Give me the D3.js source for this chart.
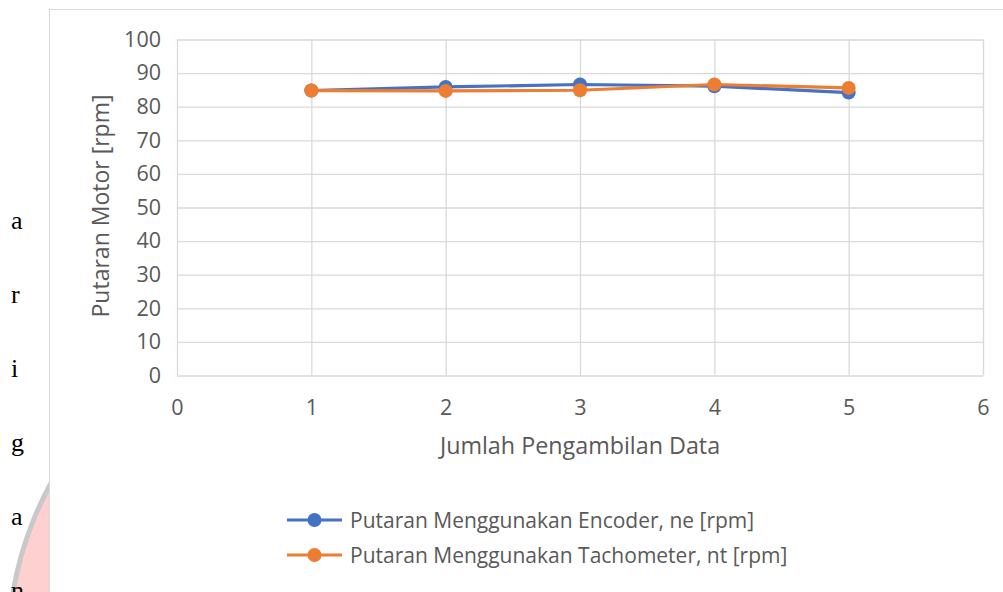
<!DOCTYPE html>
<html><head><meta charset="utf-8">
<script src="https://cdn.jsdelivr.net/npm/d3@7"></script>
<style>body{margin:0;background:#fff;overflow:hidden}</style>
</head><body>
<svg id="c" width="1003" height="592"></svg>
<script>
const xValues = [1, 2, 3, 4, 5];
const encoderValues = [84.8, 85.9, 86.6, 86.1, 84.2];
const tachoValues = [84.8, 84.7, 84.9, 86.6, 85.6];
const xTicks = [0, 1, 2, 3, 4, 5, 6];
const yTicks = [0, 10, 20, 30, 40, 50, 60, 70, 80, 90, 100];
const seriesNames = ["Putaran Menggunakan Encoder, ne [rpm]", "Putaran Menggunakan Tachometer, nt [rpm]"];
const seriesColors = ["#4472C4", "#ED7D31"];
const sideLetters = ["a", "r", "i", "g", "a", "n"];

const svg = d3.select("#c");
const font = "'Open Sans', sans-serif";
const txt = "#595959";

// background watermark circle (partially hidden by the chart frame)
svg.append("circle").attr("cx", 362).attr("cy", 652).attr("r", 354)
  .attr("fill", "#ffd0d0").attr("stroke", "#c9c9c9").attr("stroke-width", 5);

// side letters
svg.selectAll("text.side").data(sideLetters).join("text")
  .attr("x", 11).attr("y", (d, i) => 229 + i * 74)
  .attr("font-family", "'Liberation Serif', serif").attr("font-size", 26).attr("fill", "#000")
  .text(d => d);

// chart frame
svg.append("rect").attr("x", 49.5).attr("y", 9.5).attr("width", 1000).attr("height", 700)
  .attr("fill", "#fff").attr("stroke", "#d9d9d9").attr("stroke-width", 1);

const x = d3.scaleLinear().domain([0, 6]).range([177, 983]);
const y = d3.scaleLinear().domain([0, 100]).range([375.5, 39.5]);

// gridlines
const gx = svg.append("g").attr("transform", "translate(0,375.5)")
  .call(d3.axisBottom(x).tickValues(xTicks).tickSize(-(375.5 - 39.5)).tickFormat(""));
gx.select(".domain").remove();
gx.selectAll("line").attr("stroke", "#d9d9d9").attr("stroke-width", 1.3);
const gy = svg.append("g").attr("transform", "translate(177,0)")
  .call(d3.axisLeft(y).tickValues(yTicks).tickSize(-(983 - 177)).tickFormat(""));
gy.select(".domain").remove();
gy.selectAll("line").attr("stroke", "#d9d9d9").attr("stroke-width", 1.3);

// tick labels
const ax = svg.append("g").attr("transform", "translate(0,375.5)")
  .call(d3.axisBottom(x).tickValues(xTicks).tickSize(0).tickPadding(24).tickFormat(d3.format("d")));
ax.select(".domain").remove();
ax.selectAll("text").attr("font-family", font).attr("font-size", 21.5).attr("fill", txt);
const ay = svg.append("g").attr("transform", "translate(177,0)")
  .call(d3.axisLeft(y).tickValues(yTicks).tickSize(0).tickPadding(16).tickFormat(d3.format("d")));
ay.select(".domain").remove();
ay.selectAll("text").attr("font-family", font).attr("font-size", 21.5).attr("fill", txt);

// axis titles
svg.append("text").attr("x", 580).attr("y", 454).attr("text-anchor", "middle")
  .attr("font-family", font).attr("font-size", 23.3).attr("fill", txt).text("Jumlah Pengambilan Data");
svg.append("text").attr("transform", "translate(109,206) rotate(-90)").attr("text-anchor", "middle")
  .attr("font-family", font).attr("font-size", 23).attr("fill", txt).text("Putaran Motor [rpm]");

// series
const allSeries = [encoderValues, tachoValues];
const line = d3.line().x((d, i) => x(xValues[i])).y(d => y(d));
allSeries.forEach((vals, k) => {
  svg.append("path").datum(vals).attr("d", line).attr("fill", "none")
    .attr("stroke", seriesColors[k]).attr("stroke-width", 3.2).attr("stroke-linejoin", "round");
  svg.selectAll(null).data(vals).join("circle")
    .attr("cx", (d, i) => x(xValues[i])).attr("cy", d => y(d)).attr("r", 7)
    .attr("fill", seriesColors[k]);
});

// legend
seriesNames.forEach((name, k) => {
  const ly = 520 + k * 35;
  svg.append("line").attr("x1", 287).attr("x2", 342).attr("y1", ly).attr("y2", ly)
    .attr("stroke", seriesColors[k]).attr("stroke-width", 3.2);
  svg.append("circle").attr("cx", 314.5).attr("cy", ly).attr("r", 7).attr("fill", seriesColors[k]);
  svg.append("text").attr("x", 350).attr("y", ly + 7.5).attr("font-family", font)
    .attr("font-size", 21).attr("fill", txt).text(name);
});
</script>
</body></html>
